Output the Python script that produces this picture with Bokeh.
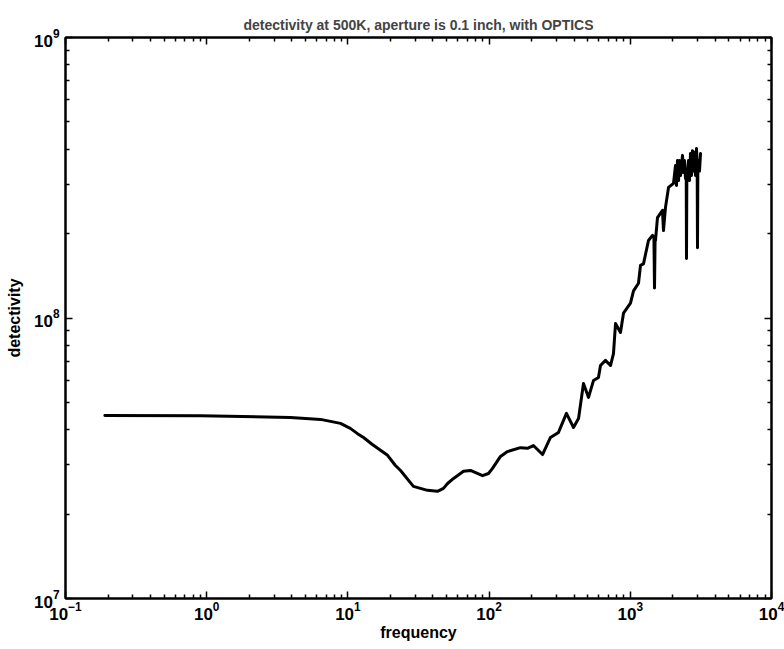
from bokeh.plotting import figure
from bokeh.models import LogAxis, FixedTicker, ColumnDataSource, CustomJSTickFormatter
from bokeh.embed import file_html
from bokeh.resources import INLINE

# frequency response of the detector (Hz) and its detectivity
freq = [0.19, 0.9, 3.92, 6.4, 8.86, 10.4, 11.7, 12.9, 14.9, 19.1, 21.7, 23.6,
        29.1, 36.6, 43.1, 47.5, 50.8, 56, 65.9, 73.8, 89.8, 99, 105.7, 120.4,
        135, 166.9, 187, 206, 239, 272,
        310, 353, 396, 430, 466, 506, 549, 595, 615, 667, 724, 760, 786, 852,
        895, 1003, 1054, 1143, 1181, 1240, 1345, 1436, 1470, 1484, 1498, 1508,
        1558, 1690, 1718, 1775, 1865, 2023, 2090, 2124, 2159, 2195, 2231, 2268,
        2343, 2382, 2420, 2460, 2490, 2500, 2515, 2541, 2584, 2626, 2669, 2713,
        2757, 2803, 2849, 2895, 2943, 2975, 2991, 3010, 3041, 3091, 3143]
detectivity = [4.49e7, 4.48e7, 4.42e7, 4.35e7, 4.21e7, 4.04e7, 3.87e7, 3.75e7,
               3.54e7, 3.24e7, 2.98e7, 2.86e7,
               2.51e7, 2.43e7, 2.41e7, 2.47e7, 2.57e7, 2.68e7, 2.84e7, 2.86e7,
               2.74e7, 2.79e7, 2.91e7, 3.21e7,
               3.34e7, 3.45e7, 3.43e7, 3.51e7, 3.26e7, 3.75e7,
               3.91e7, 4.57e7, 4.07e7, 4.38e7, 5.84e7, 5.21e7, 5.99e7, 6.14e7,
               6.77e7, 7.06e7, 6.77e7, 7.47e7, 9.56e7, 8.88e7, 1.04e8, 1.13e8,
               1.25e8, 1.33e8, 1.54e8, 1.56e8, 1.89e8, 1.97e8, 1.95e8, 1.28e8,
               1.90e8, 1.89e8, 2.28e8, 2.42e8, 2.05e8, 2.48e8, 2.92e8, 3.02e8,
               3.50e8, 2.97e8, 3.64e8, 3.09e8, 3.64e8, 3.22e8, 3.80e8, 3.30e8,
               3.64e8, 3.14e8, 3.20e8, 1.63e8, 3.25e8, 3.27e8, 3.64e8, 3.09e8,
               3.86e8, 3.22e8, 3.95e8, 3.34e8, 3.90e8, 3.22e8, 4.02e8, 3.60e8,
               1.78e8, 3.50e8, 3.64e8, 3.34e8, 3.86e8]

x_decades = [0.1, 1, 10, 100, 1000, 10000]
y_decades = [1e7, 1e8, 1e9]


def minor_between(decades):
    return [d * k for d in decades[:-1] for k in range(2, 10)]


FONT = "Liberation Sans"

p = figure(width=784, height=649, x_axis_type="log", y_axis_type="log",
           x_range=(0.1, 1e4), y_range=(1e7, 1e9),
           output_backend="svg", toolbar_location=None,
           min_border_left=65, min_border_right=13,
           min_border_top=37, min_border_bottom=51,
           title="detectivity at 500K, aperture is 0.1 inch, with OPTICS")
p.title.align = "center"
p.title.text_font = FONT
p.title.text_font_size = "14px"
p.title.text_font_style = "bold"
p.title.standoff = 10

p.grid.visible = False
p.outline_line_color = "black"
p.outline_line_width = 2
p.background_fill_color = "white"
p.border_fill_color = "white"

src = ColumnDataSource(dict(f=freq, d=detectivity))
p.line("f", "d", source=src, line_color="black", line_width=3,
       line_join="round", line_cap="round")

xt = FixedTicker(ticks=x_decades, minor_ticks=minor_between(x_decades))
yt = FixedTicker(ticks=y_decades, minor_ticks=minor_between(y_decades))


def style_axis(ax, show_labels):
    ax.axis_line_width = 2
    ax.axis_line_color = "black"
    ax.major_tick_in = 7
    ax.major_tick_out = 0
    ax.minor_tick_in = 4
    ax.minor_tick_out = 0
    ax.major_tick_line_width = 1.5
    ax.minor_tick_line_width = 1.5
    ax.major_tick_line_color = "black"
    ax.minor_tick_line_color = "black"
    if show_labels:
        ax.major_label_text_font = FONT
        ax.major_label_text_font_size = "17px"
        ax.major_label_text_font_style = "bold"
        ax.major_label_text_color = "black"
        ax.axis_label_text_font = FONT
        ax.axis_label_text_font_size = "16px"
        ax.axis_label_text_font_style = "bold"
        ax.axis_label_text_color = "black"
    else:
        # frame-side ticks only, no labels
        ax.formatter = CustomJSTickFormatter(code="return ''")
        ax.major_label_text_font_size = "1px"
        ax.major_label_standoff = 0


p.xaxis.ticker = xt
p.yaxis.ticker = yt
p.xaxis.axis_label = "frequency"
p.yaxis.axis_label = "detectivity"
style_axis(p.xaxis[0], True)
style_axis(p.yaxis[0], True)
p.xaxis.major_label_standoff = 3
p.xaxis.axis_label_standoff = 1
p.yaxis.major_label_standoff = 6
p.yaxis.axis_label_standoff = 8

top = LogAxis(ticker=xt)
right = LogAxis(ticker=yt)
style_axis(top, False)
style_axis(right, False)
p.add_layout(top, "above")
p.add_layout(right, "right")

open("out.html", "w").write(file_html(p, INLINE))
